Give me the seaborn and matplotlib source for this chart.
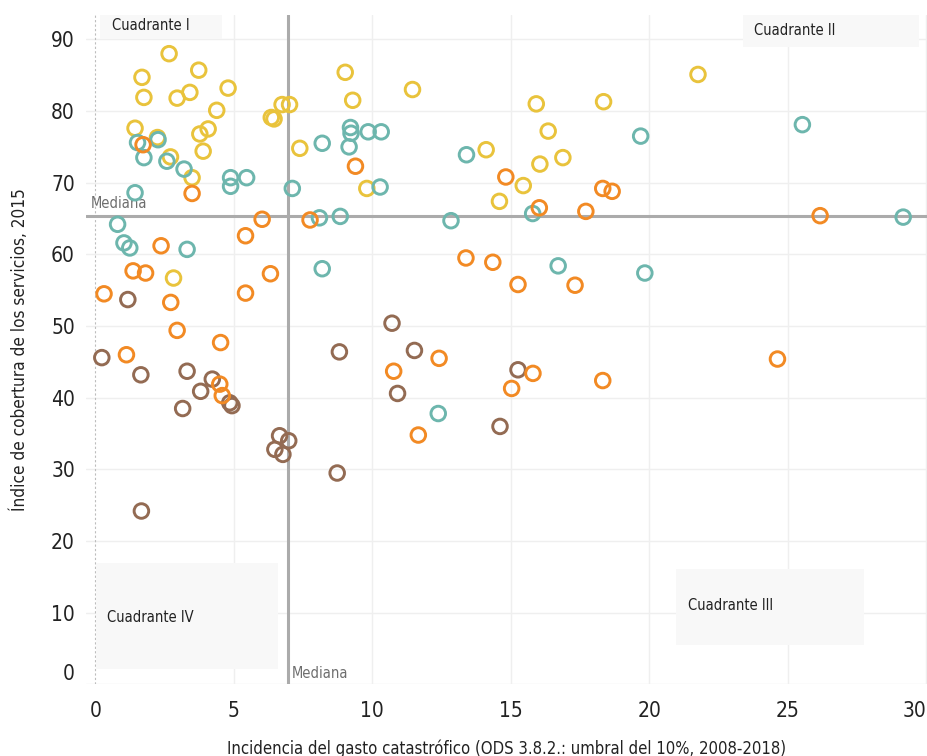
import matplotlib
matplotlib.use("Agg")
import matplotlib.pyplot as plt
from matplotlib import font_manager
from matplotlib.patches import Rectangle
import pandas as pd
import seaborn as sns

# valores: (gasto catastrófico %, índice de cobertura)
amarillo_x = [2.66, 1.68, 3.73, 1.75, 2.95, 3.41, 4.79, 4.38, 6.35, 6.45, 6.74, 7.01,
              1.43, 3.77, 4.07, 3.89, 2.71, 3.49, 7.38, 9.02, 9.29, 11.45, 9.80, 2.82,
              2.24, 21.76, 15.92, 18.35, 16.35, 14.11, 16.05, 16.88, 15.45, 14.59]
amarillo_y = [88.0, 84.7, 85.7, 81.9, 81.8, 82.6, 83.2, 80.1, 79.1, 78.9, 80.9, 80.9,
              77.6, 76.8, 77.5, 74.4, 73.6, 70.7, 74.8, 85.4, 81.5, 83.0, 69.2, 56.7,
              76.3, 85.1, 81.0, 81.3, 77.2, 74.6, 72.6, 73.5, 69.6, 67.4]

verde_x = [1.52, 2.26, 1.75, 2.58, 3.20, 4.88, 4.88, 5.46, 1.43, 7.11, 8.19, 9.21,
           9.23, 9.16, 9.85, 10.32, 10.28, 13.40, 0.80, 1.03, 1.24, 3.31, 8.09, 8.84,
           12.84, 8.19, 19.69, 25.53, 15.79, 29.17, 16.71, 19.84, 12.38]
verde_y = [75.6, 76.0, 73.5, 73.0, 71.9, 70.7, 69.5, 70.7, 68.6, 69.2, 75.5, 77.7,
           76.9, 75.0, 77.1, 77.1, 69.4, 73.9, 64.2, 61.6, 60.9, 60.7, 65.1, 65.3,
           64.7, 58.0, 76.5, 78.1, 65.7, 65.2, 58.4, 57.4, 37.8]

naranja_x = [1.72, 3.49, 9.39, 6.02, 7.75, 5.42, 2.37, 1.36, 1.81, 6.32, 0.31, 2.72,
             5.42, 2.95, 4.52, 1.12, 12.41, 10.77, 13.38, 14.82, 18.32, 18.66, 16.03,
             17.71, 26.17, 14.35, 15.26, 17.32, 24.63, 15.80, 18.32, 4.49, 4.58, 11.66,
             15.03]
naranja_y = [75.3, 68.5, 72.3, 64.9, 64.8, 62.6, 61.2, 57.7, 57.4, 57.3, 54.5, 53.3,
             54.6, 49.4, 47.7, 46.0, 45.5, 43.7, 59.5, 70.8, 69.2, 68.8, 66.5,
             66.0, 65.4, 58.9, 55.8, 55.7, 45.4, 43.4, 42.4, 41.9, 40.3, 34.8,
             41.3]

cafe_x = [1.17, 0.23, 10.71, 8.81, 11.52, 3.31, 1.64, 15.26, 4.22, 3.80, 4.85, 4.93,
          3.15, 6.65, 6.98, 6.48, 6.77, 8.73, 1.66, 10.91, 14.61]
cafe_y = [53.7, 45.6, 50.4, 46.4, 46.6, 43.7, 43.2, 43.9, 42.6, 40.9, 39.3, 38.9,
          38.5, 34.7, 34.0, 32.8, 32.1, 29.5, 24.2, 40.6, 36.0]

mediana_x = 6.95
mediana_y = 65.4

grupos = {
    "Grupo 4": (cafe_x, cafe_y),
    "Grupo 1": (amarillo_x, amarillo_y),
    "Grupo 2": (verde_x, verde_y),
    "Grupo 3": (naranja_x, naranja_y),
}
colores = {"Grupo 1": "#E9C33C", "Grupo 2": "#6DB6AD",
           "Grupo 3": "#F28A24", "Grupo 4": "#936B53"}

df = pd.concat([pd.DataFrame({"x": gx, "y": gy, "grupo": g})
                for g, (gx, gy) in grupos.items()], ignore_index=True)

sns.set_style("white")
# fuente estrecha si existe, si no DejaVu condensada
nombres = {f.name for f in font_manager.fontManager.ttflist}
estrechas = [n for n in ["Liberation Sans Narrow", "DejaVu Sans Condensed"] if n in nombres]
plt.rcParams["font.family"] = estrechas + ["DejaVu Sans"]
plt.rcParams["font.stretch"] = "condensed"

fig = plt.figure(figsize=(9.27, 7.56), dpi=100)
ax = fig.add_axes([0.0928, 0.0946, 0.9072, 0.8856])

sns.scatterplot(data=df, x="x", y="y", hue="grupo", palette=colores,
                s=110, linewidth=2.1, legend=False, ax=ax, zorder=4)
# anillos vacíos
puntos = ax.collections[-1]
puntos.set_edgecolors(puntos.get_facecolors())
puntos.set_facecolors("none")

ax.set_xlim(-0.34, 30.03)
ax.set_ylim(0, 93.4)
ax.set_xticks([0, 5, 10, 15, 20, 25, 30])
ax.set_yticks(range(0, 91, 10))

ax.grid(True, color="#EFEFEF", linewidth=1)
ax.set_axisbelow(True)
for s in ax.spines.values():
    s.set_visible(False)
# la linea del 0 en x es punteada
ax.xaxis.get_gridlines()[0].set_visible(False)
ax.axvline(0, color="#BDBDBD", linewidth=0.8, linestyle=(0, (2, 2)), zorder=0.6)

# cuadros de los cuadrantes
cajas = [
    ("Cuadrante I", 0.16, 90.1, 4.40, 3.5, 0.6, 92.0),
    ("Cuadrante II", 23.37, 89.0, 6.38, 4.4, 23.8, 91.3),
    ("Cuadrante IV", 0.02, 2.2, 6.56, 14.8, 0.41, 9.4),
    ("Cuadrante III", 20.95, 5.5, 6.82, 10.65, 21.4, 11.0),
]
for texto, x0, y0, w, h, tx, ty in cajas:
    ax.add_patch(Rectangle((x0, y0), w, h, facecolor="#F8F8F8", edgecolor="none",
                           zorder=1))
    ax.text(tx, ty, texto, fontsize=10.5, color="#222222", va="center", ha="left",
            zorder=2)

ax.axvline(mediana_x, color="#ABABAB", linewidth=2.2, zorder=3)
ax.axhline(mediana_y, color="#ABABAB", linewidth=2.2, zorder=3)
ax.text(-0.17, mediana_y + 0.6, "Mediana", fontsize=10.5, color="#6E6E6E",
        va="bottom", ha="left", zorder=3)
ax.text(mediana_x + 0.15, 1.6, "Mediana", fontsize=10.5, color="#6E6E6E",
        va="center", ha="left", zorder=3)

ax.tick_params(axis="both", length=0, labelsize=15, colors="#222222")
ax.tick_params(axis="x", pad=12)
ax.tick_params(axis="y", pad=8)
ax.get_yticklabels()[0].set_va("bottom")
ax.get_xticklabels()[-1].set_ha("right")

ax.set_xlabel("Incidencia del gasto catastrófico (ODS 3.8.2.: umbral del 10%, 2008-2018)",
              fontsize=12, color="#222222", labelpad=13)
ax.set_ylabel("Índice de cobertura de los servicios, 2015",
              fontsize=12.3, color="#222222", labelpad=16)

fig.savefig("out.png", dpi=100)
